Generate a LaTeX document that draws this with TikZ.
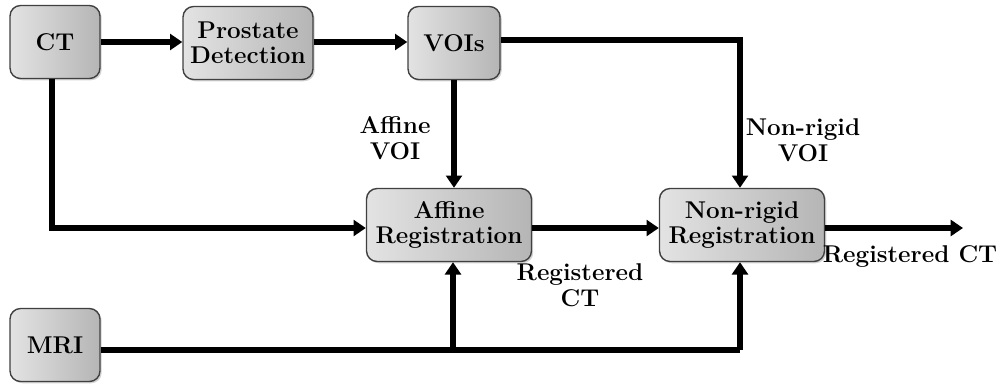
\documentclass[tikz,border=0pt]{standalone}
\usetikzlibrary{arrows.meta,shadows}
\begin{document}
\begin{tikzpicture}[x=0.02cm,y=-0.02cm,
  blockbox/.style={draw=black!75, line width=0.8pt, rounded corners=6pt,
    left color=gray!22, right color=gray!58, align=center, inner sep=1pt,
    minimum height=1.46cm,
    font=\fontsize{13.8}{14.5}\selectfont\bfseries,
    drop shadow={shadow xshift=1pt,shadow yshift=-1pt,opacity=0.35}},
  flow/.style={line width=3.4pt, -{Triangle[length=7pt,width=9pt]}},
  plain/.style={line width=3.4pt},
  lbl/.style={align=center, font=\fontsize{13.8}{14.5}\selectfont\bfseries}]
\useasboundingbox (0,0) rectangle (1000,386);

\node[blockbox, minimum width=1.8cm] (ct) at (55,42) {CT};
\node[blockbox, minimum width=2.6cm] (pd) at (248,43) {Prostate\\Detection};
\node[blockbox, minimum width=1.84cm] (voi) at (454,43) {VOIs};
\node[blockbox, minimum width=3.3cm] (aff) at (449,225) {Affine\\Registration};
\node[blockbox, minimum width=3.3cm] (nr) at (742,225) {Non-rigid\\Registration};
\node[blockbox, minimum width=1.8cm] (mri) at (55,345) {MRI};

\coordinate (out) at (963,228);
\coordinate (ctturn) at (52,228);
\coordinate (voiturn) at (740,40);
\coordinate (mrijoinA) at (453,350);
\coordinate (mrijoinB) at (740,350);

% top row
\draw[flow] (ct.east |- 0,42) -- (pd.west |- 0,42);
\draw[flow] (pd.east |- 0,42) -- (voi.west |- 0,42);
% VOIs to the two registrations
\draw[flow] (voi.south -| 454,0) -- (aff.north -| 454,0);
\draw[flow] (voi.east |- voiturn) -- (voiturn) -- (nr.north -| voiturn);
% CT into the affine step
\draw[flow] (ct.south -| ctturn) -- (ctturn) -- (aff.west |- ctturn);
% affine to non-rigid and final output
\draw[flow] (aff.east |- ctturn) -- (nr.west |- ctturn);
\draw[flow] (nr.east |- out) -- (out);
% MRI feeds both registrations
\draw[plain] (mri.east |- mrijoinB) -- (mrijoinB);
\draw[flow] (mrijoinA) -- (aff.south -| mrijoinA);
\draw[flow] (mrijoinB) -- (nr.south -| mrijoinB);

\node[lbl] (laff) at (395,138) {Affine\\VOI};
\node[lbl] (lnr) at (803,140) {Non-rigid\\VOI};
\node[lbl] (lreg) at (580,285) {Registered\\CT};
\node[lbl] (lout) at (910,256) {Registered CT};
\end{tikzpicture}
\end{document}
